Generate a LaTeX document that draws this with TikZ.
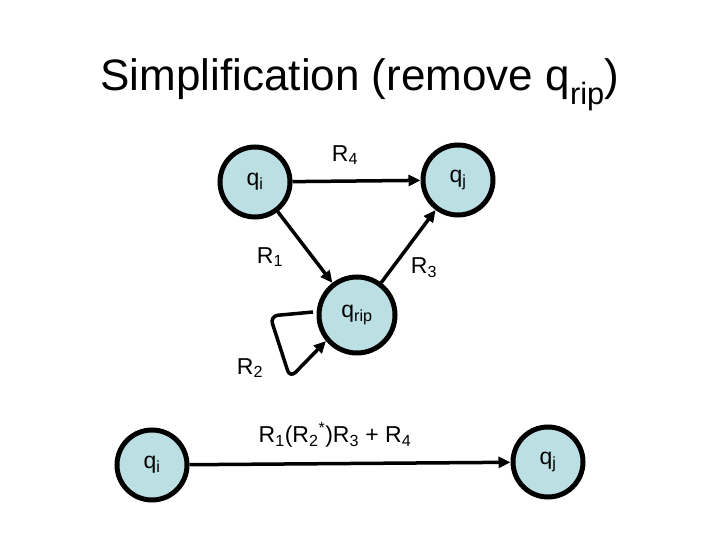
\documentclass[tikz,border=0pt]{standalone}
\usepackage{fontspec}
\setmainfont{Liberation Sans}
\usetikzlibrary{arrows.meta}
\definecolor{nodefill}{HTML}{BCDFE3}
\begin{document}
\begin{tikzpicture}[x=1pt,y=-1pt,
  st/.style={circle,draw=black,line width=5pt,fill=nodefill,minimum size=70pt,inner sep=0pt,font=\fontsize{23}{27}\selectfont},
  ed/.style={line width=3.5pt,-{Triangle[length=12pt,width=11pt]}},
  lb/.style={font=\fontsize{23}{27}\selectfont}]
\useasboundingbox (0,0) rectangle (720,540);
\node[font=\fontsize{44}{50}\selectfont] (t) at (360,85) {Simplification (remove q\textsubscript{rip})};
\node[st] (qi) at (255,182) {q\textsubscript{i}};
\node[st] (qj) at (458,180) {q\textsubscript{j}};
\node[st,minimum size=76pt] (qr) at (357,315) {q\textsubscript{rip}};
\node[st] (bi) at (152,465) {q\textsubscript{i}};
\node[st] (bj) at (548,462) {q\textsubscript{j}};
\draw[ed] (qi) -- (qj);
\draw[ed] (qi) -- (qr);
\draw[ed] (qr) -- (qj);
\draw[ed] (bi) -- (bj);
\coordinate (ls) at (313,312);
\draw[ed,rounded corners=8pt] (ls) -- (270,316) -- (290,378) -- (qr.220);
\node[lb] (l4) at (345,155) {R\textsubscript{4}};
\node[lb] (l1) at (270,257) {R\textsubscript{1}};
\node[lb] (l3) at (424,268) {R\textsubscript{3}};
\node[lb] (l2) at (250,368) {R\textsubscript{2}};
\node[lb] (lb) at (335,435) {R\textsubscript{1}(R\textsubscript{2}\textsuperscript{*})R\textsubscript{3} + R\textsubscript{4}};
\end{tikzpicture}
\end{document}
